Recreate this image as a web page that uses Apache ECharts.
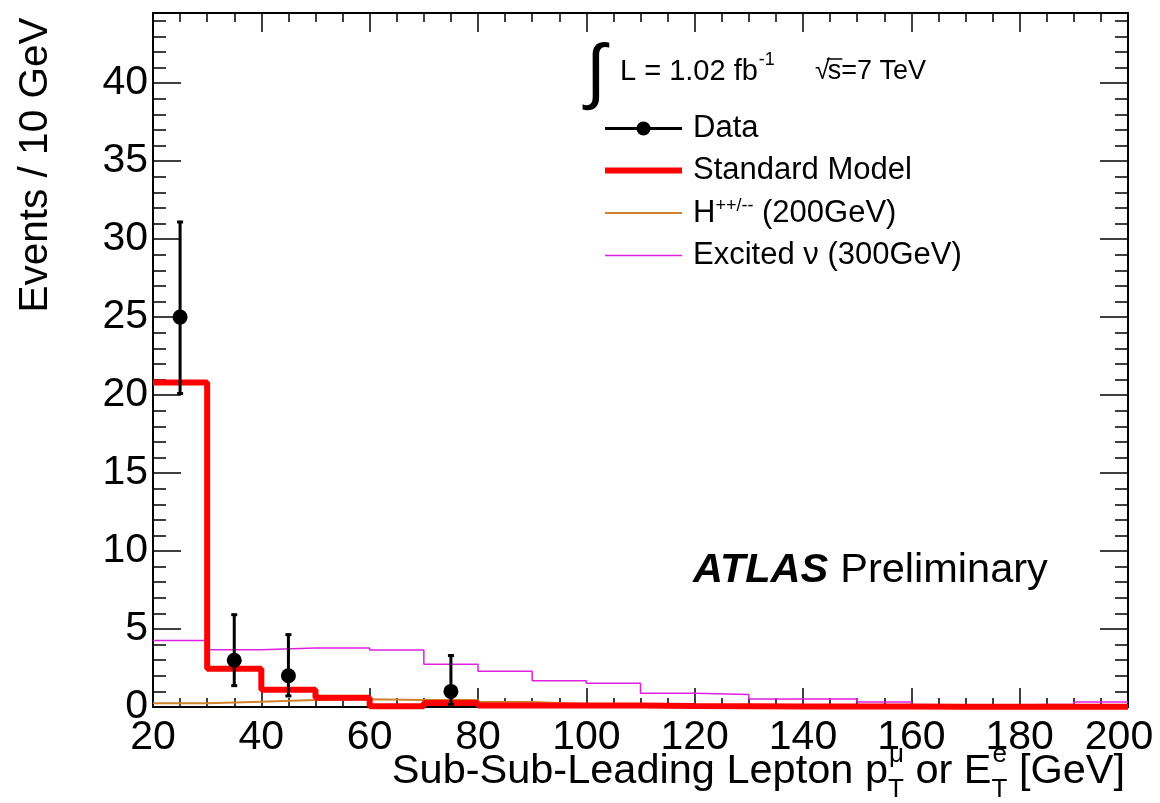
<!DOCTYPE html>
<html><head><meta charset="utf-8">
<script src="https://cdn.jsdelivr.net/npm/echarts@6/dist/echarts.min.js"></script>
<style>html,body{margin:0;padding:0;background:#fff}#c{width:1160px;height:803px}</style>
</head><body><div id="c"></div>
<script>
// ---- data ----
const binEdges = [20,30,40,50,60,70,80,90,100,110,120,130,140,150,160,170,180,190,200];
const smValues = [20.8,2.45,1.1,0.6,0.05,0.25,0.1,0.1,0.09,0.06,0.05,0.04,0.03,0.03,0.02,0.02,0.02,0.02];
const hppValues = [0.24,0.34,0.45,0.5,0.45,0.45,0.32,0.2,0.2,0.1,0.08,0.06,0.05,0.04,0.03,0.03,0.02,0.02];
const excNuValues = [4.27,3.67,3.78,3.78,3.65,2.74,2.3,1.69,1.52,0.88,0.8,0.51,0.51,0.32,0.15,0.15,0.17,0.32];
const dataX = [25,35,45,75];
const dataY = [25,3,2,1];
const dataErrLow = [4.9,1.63,1.29,0.83];
const dataErrHigh = [6.1,2.92,2.64,2.3];
const seriesNames = ['Data','Standard Model','H++/-- (200GeV)','Excited \u03bd (300GeV)'];

const FF = '"Liberation Sans", Arial, Helvetica, sans-serif';
function stepData(vals){
  const d = vals.map((v,i)=>[binEdges[i], v]);
  d.push([binEdges[vals.length], vals[vals.length-1]]);
  return d;
}
const ctx = document.createElement('canvas').getContext('2d');
function tw(t, size, extra){ ctx.font = (extra||'') + ' ' + size + 'px ' + FF; return ctx.measureText(t).width; }

const chart = echarts.init(document.getElementById('c'), null, {renderer:'canvas'});

const frameLine = {show:true, onZero:false, lineStyle:{color:'#000', width:2}};
function xAx(pos, labels){
  return {type:'value', min:20, max:200, interval:20, position:pos,
    axisLine:frameLine,
    axisTick:{show:true, inside:true, length:19, lineStyle:{color:'#000', width:1.5}},
    minorTick:{show:true, splitNumber:4, length:9, lineStyle:{color:'#000', width:1.5}},
    splitLine:{show:false}, minorSplitLine:{show:false},
    axisLabel:{show:labels, fontSize:41, fontFamily:FF, color:'#000', margin:10,
      formatter:function(v){ return v === 200 ? '{last|200}' : String(v); },
      rich:{last:{fontSize:41, fontFamily:FF, color:'#000', padding:[0,18,0,0]}}}};
}
function yAx(pos, labels){
  return {type:'value', min:0, max:44.5, interval:5, position:pos,
    axisLine:frameLine,
    axisTick:{show:true, inside:true, length:28, lineStyle:{color:'#000', width:1.5}},
    minorTick:{show:true, splitNumber:5, length:13, lineStyle:{color:'#000', width:1.5}},
    splitLine:{show:false}, minorSplitLine:{show:false},
    axisLabel:{show:labels, fontSize:41, fontFamily:FF, color:'#000', margin:5, showMaxLabel:false}};
}

// ---- x title pieces ----
const xt = [];
(function(){
  const big = 41.5, small = 26;
  const p1 = 'Sub-Sub-Leading Lepton p', p2 = ' or E', p3 = ' [GeV]';
  const w1 = tw(p1,big), ws1 = Math.max(tw('\u03bc',small), tw('T',small));
  const w2 = tw(p2,big), ws2 = Math.max(tw('e',small), tw('T',small));
  const w3 = tw(p3,big);
  const total = w1+ws1+w2+ws2+w3;
  let x = 1125 - total;
  const yc = 772, ysup = 755, ysub = 790;
  const T = (text,x,y,size)=>({type:'text', x:x, y:y, silent:true, style:{text:text, fontSize:size, fontFamily:FF, fill:'#000', align:'left', verticalAlign:'middle'}});
  xt.push(T(p1,x,yc,big)); x += w1;
  xt.push(T('\u03bc',x+1,ysup,small)); xt.push(T('T',x,ysub,small)); x += ws1;
  xt.push(T(p2,x,yc,big)); x += w2;
  xt.push(T('e',x+1,ysup,small)); xt.push(T('T',x,ysub,small)); x += ws2;
  xt.push(T(p3,x,yc,big));
})();

// ---- lumi text ----
const lumi = [];
(function(){
  const s = 29;
  let x = 620; const yc = 72;
  lumi.push({type:'text', x:586, y:75, silent:true, style:{text:'\u222b', fontSize:72, fontFamily:FF, fill:'#000', align:'left', verticalAlign:'middle'}});
  const a = 'L = 1.02 fb';
  lumi.push({type:'text', x:x, y:yc, silent:true, style:{text:a, fontSize:s, fontFamily:FF, fill:'#000', align:'left', verticalAlign:'middle'}});
  x += tw(a,s) + 1;
  lumi.push({type:'text', x:x, y:yc-12, silent:true, style:{text:'-1', fontSize:18, fontFamily:FF, fill:'#000', align:'left', verticalAlign:'middle'}});
  const s2 = 27;
  x = 815;
  lumi.push({type:'text', x:x, y:yc, silent:true, style:{text:'\u221a', fontSize:s2, fontFamily:FF, fill:'#000', align:'left', verticalAlign:'middle'}});
  const wr = tw('\u221a',s2);
  lumi.push({type:'text', x:x+wr-2, y:yc, silent:true, style:{text:'s=7 TeV', fontSize:s2, fontFamily:FF, fill:'#000', align:'left', verticalAlign:'middle'}});
  const wsx = tw('s',s2);
  lumi.push({type:'line', silent:true, shape:{x1:x+wr-3, y1:yc-13, x2:x+wr+wsx-1, y2:yc-13}, style:{stroke:'#000', lineWidth:1.5}});
})();

const atlasW = tw('ATLAS',41.5,'italic bold');

const option = {
  backgroundColor:'#fff',
  animation:false,
  grid:{left:153, right:32, top:13, bottom:96, containLabel:false, outerBoundsMode:'none'},
  xAxis:[xAx('bottom',true), xAx('top',false)],
  yAxis:[yAx('left',true), yAx('right',false)],
  legend:{
    orient:'vertical', left:600, top:108, itemWidth:77, itemHeight:30, itemGap:11,
    selectedMode:false,
    textStyle:{fontFamily:FF, fontSize:31, color:'#000', lineHeight:30, padding:[0,0,0,6],
      rich:{sup:{fontFamily:FF, fontSize:18, lineHeight:14, padding:[0,0,14,0], color:'#000'}}},
    formatter:function(n){ return n.indexOf('H++')===0 ? 'H{sup|++/--} (200GeV)' : n; },
    data:[
      {name:seriesNames[0], icon:'path://M0,8.5 H77 V11.5 H0 Z M45.5,10 A7,7 0 1 1 31.5,10 A7,7 0 1 1 45.5,10 Z', itemStyle:{color:'#000'}},
      {name:seriesNames[1], icon:'path://M0,0 H77 V6 H0 Z'},
      {name:seriesNames[2], icon:'path://M0,0 H77 V2 H0 Z'},
      {name:seriesNames[3], icon:'path://M0,0 H77 V1.6 H0 Z'}
    ]
  },
  graphic:[].concat(xt, lumi, [
    {type:'text', x:36, y:165, rotation:Math.PI/2, silent:true, style:{text:'Events / 10 GeV', fontSize:40.5, fontFamily:FF, fill:'#000', align:'center', verticalAlign:'middle'}},
    {type:'text', x:693, y:571, silent:true, style:{text:'ATLAS', fontSize:41.5, fontFamily:FF, fontStyle:'italic', fontWeight:'bold', fill:'#000', align:'left', verticalAlign:'middle'}},
    {type:'text', x:693+atlasW+12, y:571, silent:true, style:{text:'Preliminary', fontSize:41.5, fontFamily:FF, fill:'#000', align:'left', verticalAlign:'middle'}}
  ]),
  series:[
    {name:seriesNames[3], type:'line', step:'end', symbol:'none', clip:false, silent:true, z:2,
      lineStyle:{color:'#e020e0', width:1.5}, itemStyle:{color:'#e020e0'}, data:stepData(excNuValues)},
    {name:seriesNames[2], type:'line', step:'end', symbol:'none', clip:false, silent:true, z:3,
      lineStyle:{color:'#d2822e', width:2}, itemStyle:{color:'#d2822e'}, data:stepData(hppValues)},
    {name:seriesNames[1], type:'line', step:'end', symbol:'none', clip:false, silent:true, z:4,
      lineStyle:{color:'#ff0000', width:6}, itemStyle:{color:'#ff0000'}, data:stepData(smValues)},
    {name:seriesNames[0], type:'custom', silent:true, z:5,
      encode:{x:0, y:[1,2]},
      data:dataX.map((x,i)=>[x, dataY[i]-dataErrLow[i], dataY[i]+dataErrHigh[i]]),
      itemStyle:{color:'#000'},
      renderItem:function(params, api){
        const x = api.value(0);
        const p1 = api.coord([x, api.value(1)]);
        const p2 = api.coord([x, api.value(2)]);
        const st = {stroke:'#000', lineWidth:3};
        const c = 3;
        return {type:'group', children:[
          {type:'line', shape:{x1:p1[0], y1:p1[1], x2:p2[0], y2:p2[1]}, style:st},
          {type:'line', shape:{x1:p1[0]-c, y1:p1[1], x2:p1[0]+c, y2:p1[1]}, style:st},
          {type:'line', shape:{x1:p2[0]-c, y1:p2[1], x2:p2[0]+c, y2:p2[1]}, style:st}
        ]};
      }},
    {name:seriesNames[0], type:'scatter', symbol:'circle', symbolSize:15, silent:true, z:6,
      itemStyle:{color:'#000', opacity:1}, data:dataX.map((x,i)=>[x, dataY[i]])}
  ]
};
chart.setOption(option);
</script></body></html>
